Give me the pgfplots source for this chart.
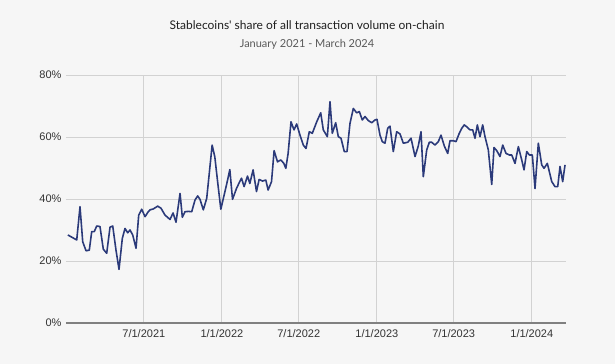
\documentclass[border=0pt]{standalone}
\usepackage{pgfplots}
\pgfplotsset{compat=1.18}
\usepackage{fontspec}
\setmainfont{Liberation Sans}
\newfontfamily\titlefont{Lato}
\usetikzlibrary{backgrounds,calc}
\definecolor{bgc}{HTML}{F6F6F6}
\definecolor{linec}{HTML}{2B3A7A}
\definecolor{gridc}{HTML}{D2D2D2}
\definecolor{tickc}{HTML}{333333}
\begin{document}
\begin{tikzpicture}
\begin{axis}[name=ax, scale only axis, width=500bp, height=248bp,
  xmin=-2.4, xmax=1175.6, ymin=0, ymax=80,
  axis lines*=left,
  x axis line style={-, draw=black!50, line width=1.2pt},
  y axis line style={draw=none},
  major tick length=0pt,
  grid=major, grid style={gridc, line width=0.9pt},
  ytick={0,20,40,60,80},
  yticklabel={\pgfmathprintnumber{\tick}\%},
  /pgf/number format/assume math mode=true,
  xtick={181,365,546,730,911,1095},
  xticklabels={7/1/2021,1/1/2022,7/1/2022,1/1/2023,7/1/2023,1/1/2024},
  tick label style={font=\fontsize{11bp}{13bp}\selectfont, text=tickc},
  xticklabel style={yshift=-3bp},
  yticklabel style={xshift=-1bp},
  clip=false,
]
\addplot[linec, line width=1.6pt, line join=round] coordinates {
(2,28.4)(18.8,27.1)(22.9,26.8)(30.6,37.5)(37.0,26.2)(44.8,23.3)(52.5,23.5)(58.2,29.5)(64.3,29.5)(70.0,31.3)
(77.7,31.1)(85.5,23.8)(93.5,22.5)(101.3,30.9)(107.7,31.3)(115.4,23.5)(122.5,17.3)(130.3,27.3)(136.6,30.5)(143.0,29.1)
(148.4,30)(154.8,28.4)(162.6,24.1)(168.9,34.8)(176.0,36.7)(183.8,34.3)(191.5,35.9)(195.5,36.5)(203.3,36.8)(213.7,37.7)
(221.5,37)(230.9,34.8)(242.7,33.4)(249.8,35.5)(256.8,32.5)(266.3,41.8)(271.7,34.1)(278.0,35.9)(285.8,36)(293.8,35.9)
(301.6,39.7)(307.9,41)(313.3,39.9)(321.1,36.5)(329.1,40.2)(335.7,49)(341.9,57.4)(348.2,53.6)(355.3,45)(362.4,36.7)
(370.2,41.3)(376.5,45)(383.6,49.5)(389.9,39.9)(399.3,43.4)(404.8,45)(411.1,46.7)(417.2,44)(425.2,47.4)(430.7,45)
(438.4,49.4)(446.4,42.4)(452.6,46.3)(460.6,45.8)(468.4,46.1)(473.8,42.9)(481.8,45.6)(487.9,55.6)(495.9,52)(503.7,52.6)
(510.8,51.5)(515.5,49.9)(520.9,54.7)(527.7,64.9)(534.8,62.3)(541.1,64.2)(548.9,60.6)(556.7,57.4)(563.1,56.3)(570.8,61.7)
(577.9,61.2)(588.3,64.9)(597.7,67.8)(603.8,62.3)(613.3,60.1)(619.6,71.4)(625.0,61.2)(633.0,64.6)(639.2,60.1)(645.5,59.6)
(653.3,55.3)(659.7,55.3)(666.7,64.4)(674.5,69.2)(682.5,67.8)(688.7,68.2)(695.7,65.5)(702.1,66.6)(709.9,65.3)(717.9,64.6)
(725.6,65.5)(730.3,65.7)(737.4,60.6)(742.8,58.5)(749.2,58)(755.5,62.8)(760.9,63.5)(768.7,55.3)(776.7,61.7)(784.5,61)
(792.3,58)(802.7,58.3)(810.5,59.6)(819.9,53.7)(827.6,57.1)(834.0,61.7)(839.4,47.2)(847.4,55.8)(853.6,58.3)(859.2,58.3)
(867.0,57.4)(874.8,58.5)(881.1,60.6)(888.9,57.1)(896.9,54.7)(902.3,58.8)(910.1,58.8)(916.5,58.5)(923.6,61)(929.9,62.8)
(936.0,63.9)(941.7,63.3)(949.5,62.3)(955.8,62.3)(961.2,59.6)(966.7,63.9)(973.0,60.1)(979.3,63.9)(984.8,60.1)(992.6,55.8)
(1000.6,44.7)(1006.0,56.6)(1012.4,55.6)(1020.1,53.7)(1026.5,57.4)(1034.3,54.7)(1042.1,54.2)(1047.7,54.2)(1055.5,51.5)(1063.3,56.9)
(1071.3,52.6)(1076.7,49.4)(1083.1,55.3)(1089.2,54.2)(1096.3,54.2)(1102.6,43.4)(1110.4,58)(1118.4,51)(1123.8,49.9)(1131.6,51.5)
(1142.0,45.6)(1149.7,44)(1156.1,44)(1161.5,50.5)(1167.8,45.6)(1173.3,51)
};
\end{axis}
\node[font=\titlefont\fontsize{12bp}{14bp}\selectfont, text=black!88] at ($(ax.south west)+(241bp,298bp)$) {Stablecoins' share of all transaction volume on-chain};
\node[font=\titlefont\fontsize{11bp}{13bp}\selectfont, text=black!65] at ($(ax.south west)+(241bp,279bp)$) {January 2021 - March 2024};
\begin{scope}[on background layer]
\fill[bgc] ($(ax.south west)+(-66bp,-41bp)$) rectangle ($(ax.south west)+(549bp,323bp)$);
\end{scope}
\end{tikzpicture}
\end{document}
